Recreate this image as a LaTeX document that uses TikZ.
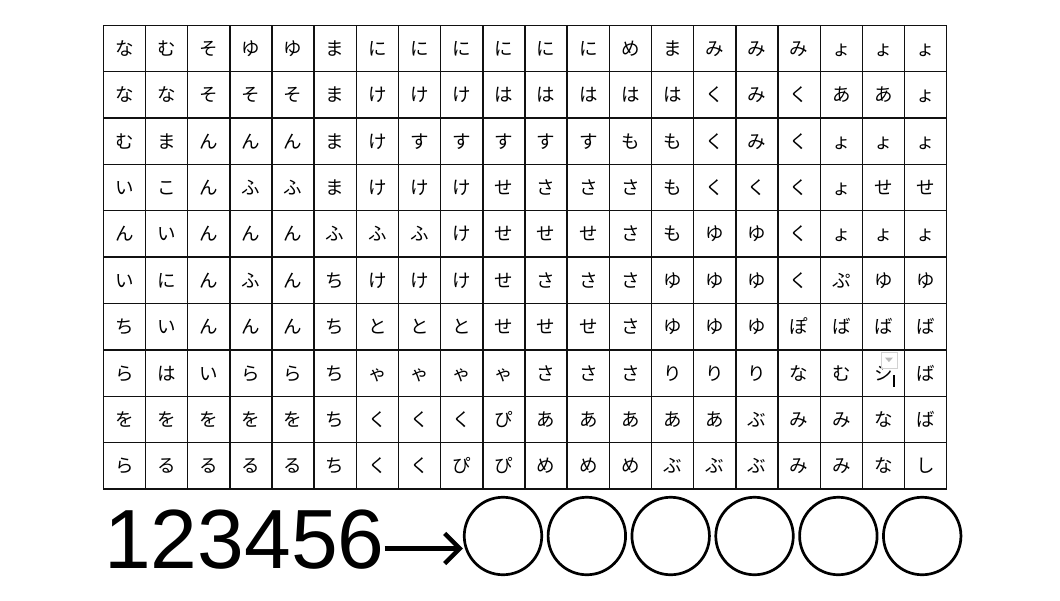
\documentclass[tikz,border=0pt]{standalone}
\usepackage{fontspec}
\setmainfont{Liberation Sans}
\newfontfamily\jpfont{Noto Sans CJK JP}
\usetikzlibrary{arrows.meta}
\definecolor{gridc}{HTML}{111111}
\tikzset{
  cell/.style={draw=gridc, line width=1.4pt, minimum width=42.17pt, minimum height=46.37pt,
    inner sep=0pt, font=\jpfont\fontsize{18.5}{18.5}\selectfont, text height=16.2pt, text depth=2.3pt},
  answer/.style={draw=black, line width=2.7pt, circle, minimum size=77.5pt, inner sep=0pt},
  bignum/.style={font=\fontsize{84}{84}\selectfont, inner sep=0pt, anchor=base west},
  arr/.style={line width=4.5pt, -{Straight Barb[length=15pt,width=30pt]}},
}
\begin{document}
\begin{tikzpicture}[x=1pt,y=-1pt]
\useasboundingbox (0,0) rectangle (1060,600);
\foreach \row [count=\r] in {
 {な,む,そ,ゆ,ゆ,ま,に,に,に,に,に,に,め,ま,み,み,み,ょ,ょ,ょ},
 {な,な,そ,そ,そ,ま,け,け,け,は,は,は,は,は,く,み,く,あ,あ,ょ},
 {む,ま,ん,ん,ん,ま,け,す,す,す,す,す,も,も,く,み,く,ょ,ょ,ょ},
 {い,こ,ん,ふ,ふ,ま,け,け,け,せ,さ,さ,さ,も,く,く,く,ょ,せ,せ},
 {ん,い,ん,ん,ん,ふ,ふ,ふ,け,せ,せ,せ,さ,も,ゆ,ゆ,く,ょ,ょ,ょ},
 {い,に,ん,ふ,ん,ち,け,け,け,せ,さ,さ,さ,ゆ,ゆ,ゆ,く,ぷ,ゆ,ゆ},
 {ち,い,ん,ん,ん,ち,と,と,と,せ,せ,せ,さ,ゆ,ゆ,ゆ,ぽ,ば,ば,ば},
 {ら,は,い,ら,ら,ち,ゃ,ゃ,ゃ,ゃ,さ,さ,さ,り,り,り,な,む,シ,ば},
 {を,を,を,を,を,ち,く,く,く,ぴ,あ,あ,あ,あ,あ,ぶ,み,み,な,ば},
 {ら,る,る,る,る,ち,く,く,ぴ,ぴ,め,め,め,ぶ,ぶ,ぶ,み,み,な,し}} {
  \foreach \ch [count=\c] in \row {
    \node[cell] (k-\r-\c) at ({103.3+(\c-0.5)*42.17},{25.3+(\r-0.5)*46.37}) {\ch};
  }
}
% input-method dropdown and cursor over one cell
\node[draw=gray!35, fill=white, fill opacity=0.7, line width=0.8pt, minimum size=16pt, inner sep=0pt]
  (dd) at ([xshift=5.5pt,yshift=13pt]k-8-19.center) {};
\fill[gray!55] ([xshift=-4pt,yshift=2.5pt]dd.center) -- ([xshift=4pt,yshift=2.5pt]dd.center) -- ([yshift=-2pt]dd.center) -- cycle;
\coordinate (cur1) at ([xshift=10.5pt,yshift=-2pt]k-8-19.center);
\coordinate (cur2) at ([xshift=10.5pt,yshift=-14pt]k-8-19.center);
\draw[line width=2pt] (cur1) -- (cur2);
% numbers, arrow and answer circles
\node[bignum] (num) at (104,568) {123456};
\foreach \i in {1,...,6} {
  \node[answer] (a\i) at ({503+(\i-1)*83.84},536) {};
}
\draw[arr] ([yshift=19.5pt]num.base east) -- ([yshift=19.5pt]num.base east -| a1.west) ;
\end{tikzpicture}
\end{document}
